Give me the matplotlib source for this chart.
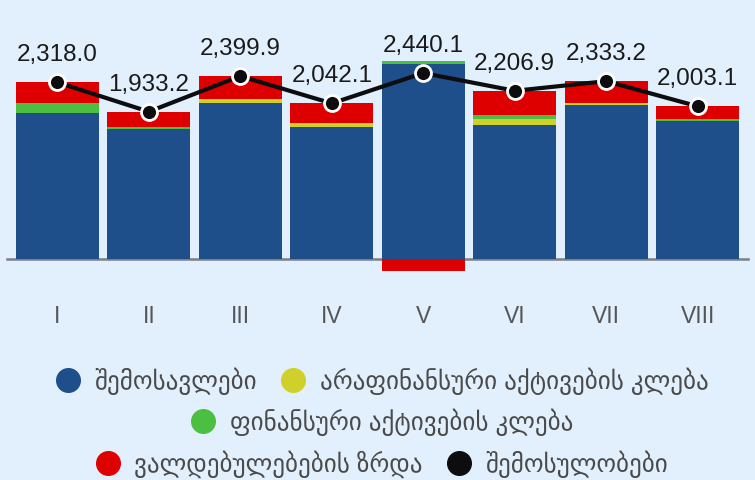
import matplotlib
matplotlib.use("Agg")
import matplotlib.pyplot as plt
from matplotlib.lines import Line2D
import numpy as np

plt.rcParams['font.family'] = ['Liberation Sans', 'DejaVu Sans']

months = ["I", "II", "III", "IV", "V", "VI", "VII", "VIII"]
revenue = [1915, 1705, 2046, 1732, 2554, 1758, 2020, 1810]          # შემოსავლები
nonfin_assets = [0, 0, 53, 52, 0, 79, 26, 0]                        # არაფინანსური აქტივების კლება
fin_assets = [131, 27, 0, 0, 39, 52, 0, 27]                         # ფინანსური აქტივების კლება
liabilities = [272, 201, 301, 258, -153, 318, 287, 166]             # ვალდებულებების ზრდა
receipts = [2318.0, 1933.2, 2399.9, 2042.1, 2440.1, 2206.9, 2333.2, 2003.1]  # შემოსულობები

names = ["შემოსავლები", "არაფინანსური აქტივების კლება", "ფინანსური აქტივების კლება",
         "ვალდებულებების ზრდა", "შემოსულობები"]
colors = ["#1f4f8b", "#cfd12a", "#4bbf41", "#de0000", "#0d0d0f"]
bg = "#e2effc"

fig = plt.figure(figsize=(7.55, 4.8), dpi=100, facecolor=bg)
ax = fig.add_axes([7/755, 1 - 281.9/480, 741/755, (281.9 - 45.6)/480])
ax.set_facecolor(bg)

x = np.arange(len(months))
w = 0.91
pos_bottom = np.zeros(len(months))
neg_bottom = np.zeros(len(months))
for vals, c in zip([revenue, nonfin_assets, fin_assets, liabilities], colors[:4]):
    v = np.array(vals, dtype=float)
    bottom = np.where(v >= 0, pos_bottom, neg_bottom)
    ax.bar(x, v, w, bottom=bottom, color=c, zorder=2, linewidth=0)
    pos_bottom = pos_bottom + np.where(v >= 0, v, 0)
    neg_bottom = neg_bottom + np.where(v < 0, v, 0)

ax.plot(x, receipts, color=colors[4], lw=3, marker='o', ms=11.5,
        mfc=colors[4], mec='white', mew=2, zorder=4)
for xi, v in zip(x, receipts):
    ax.annotate(f"{v:,.1f}", (xi, v), xytext=(0, 19.5), textcoords='offset points',
                ha='center', va='center', fontsize=17.5, color='#1a1a1a', zorder=5)

ax.set_xlim(-0.55, 7.55)
ax.set_ylim(-300, 2800)
for s in ['top', 'right', 'left']:
    ax.spines[s].set_visible(False)
ax.spines['bottom'].set_position(('data', 0))
ax.spines['bottom'].set_color('#7a7e86')
ax.spines['bottom'].set_linewidth(1.8)
ax.spines['bottom'].set_zorder(1)
ax.set_yticks([])
ax.set_xticks(x)
ax.set_xticklabels(months, fontsize=16.5, color='#555555')
ax.tick_params(axis='x', length=0, pad=33)

handles = [Line2D([], [], ls='none', marker='o', ms=17, mfc=c, mec=c) for c in colors]
rows = [([0, 1], 1 - 381/480), ([2], 1 - 422/480), ([3, 4], 1 - 464/480)]
for idx, yy in rows:
    leg = fig.legend([handles[i] for i in idx], [names[i] for i in idx],
                     loc='center', bbox_to_anchor=(382/755, yy), ncol=len(idx),
                     frameon=False, fontsize=18, handlelength=0.95, handletextpad=0.6,
                     columnspacing=0.95, borderpad=0, borderaxespad=0)
    for t in leg.get_texts():
        t.set_color('#4a4a4a')

fig.savefig("out.png", dpi=100, facecolor=bg)
